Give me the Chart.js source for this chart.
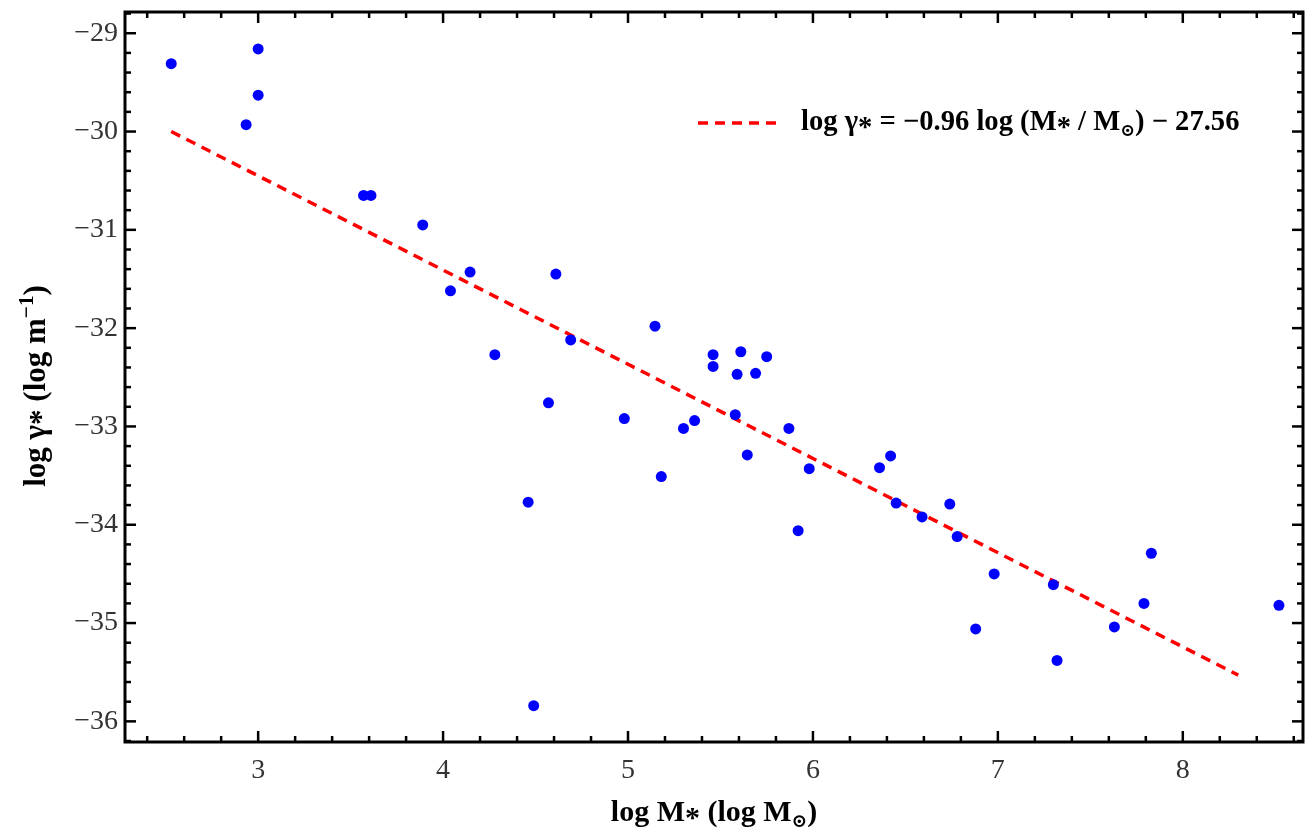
<!DOCTYPE html>
<html>
<head>
<meta charset="utf-8">
<script src="https://cdn.jsdelivr.net/npm/chart.js@4.4.1/dist/chart.umd.min.js"></script>
<style>
  html, body { margin: 0; padding: 0; background: #fff; }
  #wrap { width: 1309px; height: 832px; }
</style>
</head>
<body>
<div id="wrap"><canvas id="plot" width="1309" height="832"></canvas></div>
<script>
// data
const logMass = [2.53, 3.00, 3.00, 2.935, 3.57, 3.61, 3.89, 4.04, 4.146, 4.61, 4.69, 4.28, 5.146,
  5.46, 5.46, 5.61, 5.75, 5.59, 5.69, 4.57, 4.98, 5.30, 5.36, 5.58, 5.87, 5.645, 5.98, 5.18,
  4.46, 5.92, 6.36, 6.42, 6.45, 6.59, 6.74, 6.78, 6.98, 6.88, 7.30, 7.32, 7.83, 7.79, 7.63,
  8.52, 4.49];
const logGamma = [-29.31, -29.16, -29.63, -29.93, -30.65, -30.65, -30.95, -31.62, -31.43, -31.45,
  -32.12, -32.27, -31.98, -32.27, -32.39, -32.24, -32.29, -32.47, -32.46, -32.76, -32.92, -33.02,
  -32.94, -32.88, -33.02, -33.29, -33.43, -33.51, -33.77, -34.06, -33.42, -33.30, -33.78, -33.92,
  -33.79, -34.12, -34.50, -35.06, -34.61, -35.38, -34.29, -34.80, -35.04, -34.82, -35.84];

// fitted line end points
const fitX = [2.53, 8.30];
const fitY = [-30.00, -35.53];

const xTicks = [3, 4, 5, 6, 7, 8];
const yTicks = [-36, -35, -34, -33, -32, -31, -30, -29];

const SERIF = '"Liberation Serif", "DejaVu Serif", serif';
const fmt = v => String(v).replace('-', '\u2212');

// text with sub/superscripts: parts = [[text, scale, dyEm]]
function drawRich(ctx, parts, x, y, size, align) {
  let w = 0;
  parts.forEach(p => {
    ctx.font = 'bold ' + (size * (p[1] || 1)) + 'px ' + SERIF;
    w += ctx.measureText(p[0]).width;
  });
  let cx = align === 'left' ? x : x - w / 2;
  ctx.textAlign = 'left';
  ctx.textBaseline = 'middle';
  parts.forEach(p => {
    ctx.font = 'bold ' + (size * (p[1] || 1)) + 'px ' + SERIF;
    ctx.fillText(p[0], cx, y + (p[2] || 0) * size);
    cx += ctx.measureText(p[0]).width;
  });
  return w;
}

const frame = {
  id: 'frame',
  afterDraw(chart) {
    const { ctx, chartArea: a, scales: { x, y } } = chart;
    ctx.save();
    ctx.strokeStyle = '#000';
    ctx.fillStyle = '#000';

    // inward ticks
    ctx.lineWidth = 2.5;
    const tick = (x1, y1, x2, y2) => { ctx.beginPath(); ctx.moveTo(x1, y1); ctx.lineTo(x2, y2); ctx.stroke(); };
    for (let v = Math.ceil(x.min / 0.2) * 0.2; v <= x.max; v += 0.2) {
      const px = x.getPixelForValue(v);
      const len = Math.abs(v - Math.round(v)) < 1e-6 ? 11 : 6;
      tick(px, a.bottom, px, a.bottom - len);
      tick(px, a.top, px, a.top + len);
    }
    for (let v = Math.ceil(y.min / 0.2) * 0.2; v <= y.max; v += 0.2) {
      const py = y.getPixelForValue(v);
      const len = Math.abs(v - Math.round(v)) < 1e-6 ? 11 : 6;
      tick(a.left, py, a.left + len, py);
      tick(a.right, py, a.right - len, py);
    }

    // box
    ctx.lineWidth = 3;
    ctx.strokeRect(a.left, a.top, a.right - a.left, a.bottom - a.top);

    // axis titles
    drawRich(ctx, [['log M'], ['*', 1, 0.2], [' (log M'], ['\u2299', 0.62, 0.3], [')']],
      (a.left + a.right) / 2, 813, 30);
    ctx.save();
    ctx.translate(37, (a.top + a.bottom) / 2 + 9);
    ctx.rotate(-Math.PI / 2);
    drawRich(ctx, [['log \u03B3'], ['*', 1, 0.2], [' (log m'], ['\u22121', 0.68, -0.32], [')']], 0, 0, 31);
    ctx.restore();

    // legend
    const ly = a.top + 111;
    ctx.strokeStyle = '#ff0000';
    ctx.lineWidth = 3.5;
    ctx.setLineDash([10, 7]);
    tick(a.left + 573, ly, a.left + 652, ly);
    ctx.setLineDash([]);
    ctx.fillStyle = '#000';
    drawRich(ctx, [['log \u03B3'], ['*', 1, 0.2], [' = \u22120.96 log (M'], ['*', 1, 0.2], [' / M'],
      ['\u2299', 0.62, 0.3], [') \u2212 27.56']], a.left + 676, ly, 28.6, 'left');
    ctx.restore();
  }
};

new Chart(document.getElementById('plot'), {
  type: 'scatter',
  data: {
    datasets: [
      {
        data: logMass.map((m, i) => ({ x: m, y: logGamma[i] })),
        backgroundColor: '#0000ff',
        borderWidth: 0,
        pointRadius: 5.5,
        pointHoverRadius: 5.5
      },
      {
        type: 'line',
        data: fitX.map((m, i) => ({ x: m, y: fitY[i] })),
        borderColor: '#ff0000',
        borderWidth: 3.5,
        borderDash: [10, 7],
        pointRadius: 0,
        fill: false
      }
    ]
  },
  options: {
    responsive: false,
    animation: false,
    layout: { padding: { left: 0, top: 12, right: 6, bottom: 0 } },
    plugins: { legend: { display: false }, tooltip: { enabled: false } },
    scales: {
      x: {
        type: 'linear',
        min: 2.28,
        max: 8.65,
        afterBuildTicks: s => { s.ticks = xTicks.map(v => ({ value: v })); },
        afterFit: s => { s.height = 90; s.paddingLeft = 0; s.paddingRight = 0; },
        grid: { display: false, drawTicks: false },
        border: { display: false },
        ticks: {
          padding: 12,
          color: '#333',
          font: { family: SERIF, size: 28 },
          callback: v => fmt(v)
        }
      },
      y: {
        type: 'linear',
        min: -36.21,
        max: -28.784,
        afterBuildTicks: s => { s.ticks = yTicks.map(v => ({ value: v })); },
        afterFit: s => { s.width = 125; s.paddingTop = 0; s.paddingBottom = 0; },
        grid: { display: false, drawTicks: false },
        border: { display: false },
        ticks: {
          padding: 7,
          color: '#333',
          font: { family: SERIF, size: 28 },
          callback: v => fmt(v)
        }
      }
    }
  },
  plugins: [frame]
});
</script>
</body>
</html>
